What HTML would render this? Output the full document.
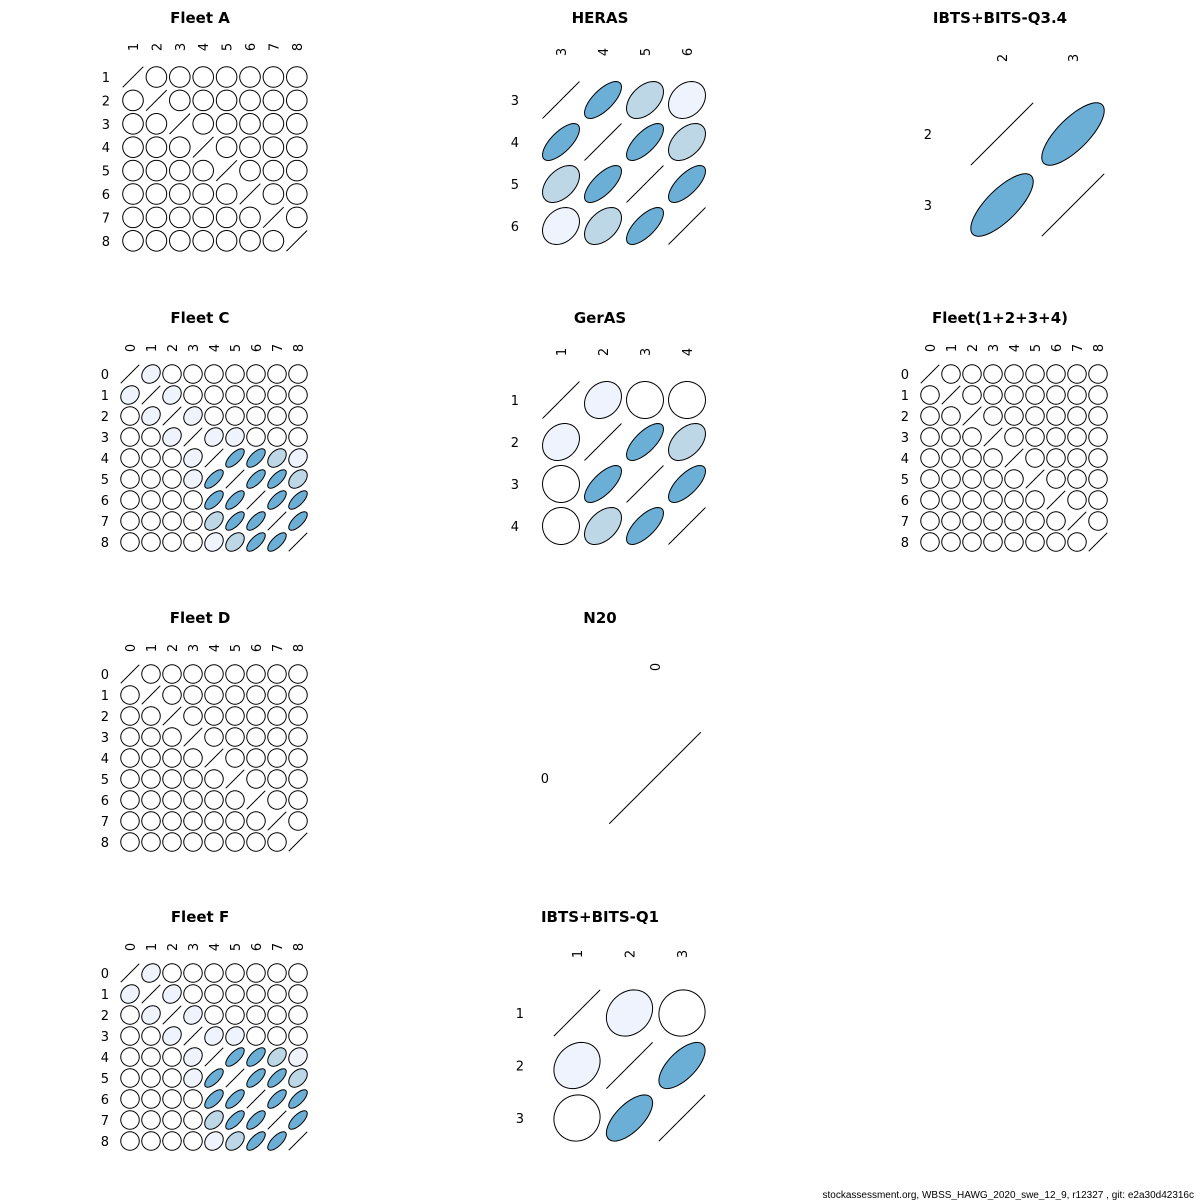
<!DOCTYPE html>
<html><head><meta charset="utf-8"><style>
html,body{margin:0;padding:0;background:#fff;}
svg{display:block;font-family:"DejaVu Sans","Liberation Sans",sans-serif;}
</style></head><body>
<svg id="chart" width="1200" height="1200" viewBox="0 0 1200 1200" xmlns="http://www.w3.org/2000/svg">
<rect width="1200" height="1200" fill="#fff"/>
<text x="1194" y="1198" text-anchor="end" font-size="10" font-family="Liberation Sans, sans-serif">stockassessment.org, WBSS_HAWG_2020_swe_12_9, r12327 , git: e2a30d42316c</text>
</svg>
<script>
// ---- data: labels and upper-triangle correlations (row-major, i<j) ----
const titles = ["Fleet A","HERAS","IBTS+BITS-Q3.4","Fleet C","GerAS","Fleet(1+2+3+4)","Fleet D","N20","Fleet F","IBTS+BITS-Q1"];
const labelsA = ["1","2","3","4","5","6","7","8"];
const labelsHERAS = ["3","4","5","6"];
const labelsQ34 = ["2","3"];
const labels09 = ["0","1","2","3","4","5","6","7","8"];
const labelsGerAS = ["1","2","3","4"];
const labelsN20 = ["0"];
const labelsQ1 = ["1","2","3"];
const corrA = [0,0,0,0,0,0,0, 0,0,0,0,0,0, 0,0,0,0,0, 0,0,0,0, 0,0,0, 0,0, 0];
const corrHERAS = [0.7,0.45,0.25, 0.7,0.45, 0.7];
const corrQ34 = [0.75];
const corrC = [0.2,0,0,0,0,0,0,0, 0.2,0,0,0,0,0,0, 0.2,0,0,0,0,0, 0.2,0.15,0,0,0, 0.7,0.65,0.4,0.2, 0.7,0.7,0.4, 0.7,0.7, 0.7];
const corrGerAS = [0.2,0,0, 0.7,0.45, 0.7];
const corr1234 = [0,0,0,0,0,0,0,0, 0,0,0,0,0,0,0, 0,0,0,0,0,0, 0,0,0,0,0, 0,0,0,0, 0,0,0, 0,0, 0];
const corrD = [0,0,0,0,0,0,0,0, 0,0,0,0,0,0,0, 0,0,0,0,0,0, 0,0,0,0,0, 0,0,0,0, 0,0,0, 0,0, 0];
const corrN20 = [];
const corrF = [0.2,0,0,0,0,0,0,0, 0.2,0,0,0,0,0,0, 0.2,0,0,0,0,0, 0.2,0.15,0,0,0, 0.7,0.65,0.4,0.2, 0.7,0.7,0.4, 0.7,0.7, 0.7];
const corrQ1 = [0.2,0.05, 0.65];

// ---- layout (positions only) ----
const panels = [
 {labels:labelsA, corr:corrA, x0:133, y0:77, step:23.4, rowX:110, colY:47, tx:200, ty:18},
 {labels:labelsHERAS, corr:corrHERAS, x0:561, y0:100, step:42, rowX:519, colY:52, tx:600, ty:18},
 {labels:labelsQ34, corr:corrQ34, x0:1002, y0:134, step:71, rowX:932, colY:58, tx:1000, ty:18},
 {labels:labels09, corr:corrC, x0:130, y0:374, step:21, rowX:109, colY:348, tx:200, ty:318},
 {labels:labelsGerAS, corr:corrGerAS, x0:561, y0:400, step:42, rowX:519, colY:352, tx:600, ty:318},
 {labels:labels09, corr:corr1234, x0:930, y0:374, step:21, rowX:909, colY:348, tx:1000, ty:318},
 {labels:labels09, corr:corrD, x0:130, y0:674, step:21, rowX:109, colY:648, tx:200, ty:618},
 {labels:labelsN20, corr:corrN20, x0:655, y0:778, step:104, rowX:549, colY:667, tx:600, ty:618},
 {labels:labels09, corr:corrF, x0:130, y0:973, step:21, rowX:109, colY:947, tx:200, ty:917},
 {labels:labelsQ1, corr:corrQ1, x0:577, y0:1013, step:52.5, rowX:524, colY:954, tx:600, ty:917}
];
const NS = "http://www.w3.org/2000/svg";
const svg = document.getElementById("chart");
function colorFor(r){const a=Math.abs(r); if(a>=0.999) return "none"; if(a<0.1) return "#ffffff"; if(a<0.3) return "#eef3fe"; if(a<0.6) return "#bdd7e7"; return "#6baed6";}
function getCorr(p,i,j){ if(i===j) return 1; const n=p.labels.length; const a=Math.min(i,j), b=Math.max(i,j); let idx=0; for(let k=0;k<a;k++) idx+=n-1-k; idx+=b-a-1; return p.corr[idx]; }
function ellipsePath(cx,cy,s,r){ const d=Math.acos(Math.max(-1,Math.min(1,r))); let pts=[]; for(let k=0;k<=60;k++){const t=k/60*2*Math.PI; pts.push((cx+s*Math.cos(t+d/2)).toFixed(2)+","+(cy-s*Math.cos(t-d/2)).toFixed(2));} return "M"+pts.join("L")+"Z"; }
panels.forEach((p,pi)=>{
  const g=document.createElementNS(NS,"g");
  
  
  svg.appendChild(g);
  const t=document.createElementNS(NS,"text");
  
  
  t.setAttribute("x",p.tx); t.setAttribute("y",p.ty+5); t.setAttribute("text-anchor","middle");
  t.setAttribute("font-size","15"); t.setAttribute("font-weight","bold"); t.textContent=titles[pi]; g.appendChild(t);
  const n=p.labels.length, s=p.step*0.44;
  p.labels.forEach((lab,i)=>{
    const rl=document.createElementNS(NS,"text");
    
    
    rl.setAttribute("x",p.rowX); rl.setAttribute("y",p.y0+i*p.step+5); rl.setAttribute("text-anchor","end");
    rl.setAttribute("font-size","13"); rl.textContent=lab; g.appendChild(rl);
    const cl=document.createElementNS(NS,"text");
    
    
    const cx=p.x0+i*p.step+5;
    cl.setAttribute("transform","translate("+cx+","+p.colY+") rotate(-90)");
    cl.setAttribute("text-anchor","middle"); cl.setAttribute("font-size","13"); cl.textContent=lab; g.appendChild(cl);
  });
  for(let i=0;i<n;i++) for(let j=0;j<n;j++){
    const r=getCorr(p,i,j);
    const e=document.createElementNS(NS,"path");
    
    
    e.setAttribute("d",ellipsePath(p.x0+j*p.step,p.y0+i*p.step,s,r));
    e.setAttribute("fill",colorFor(r)); e.setAttribute("stroke","#000"); e.setAttribute("stroke-width","1");
    g.appendChild(e);
  }
});
</script>
</body></html>
